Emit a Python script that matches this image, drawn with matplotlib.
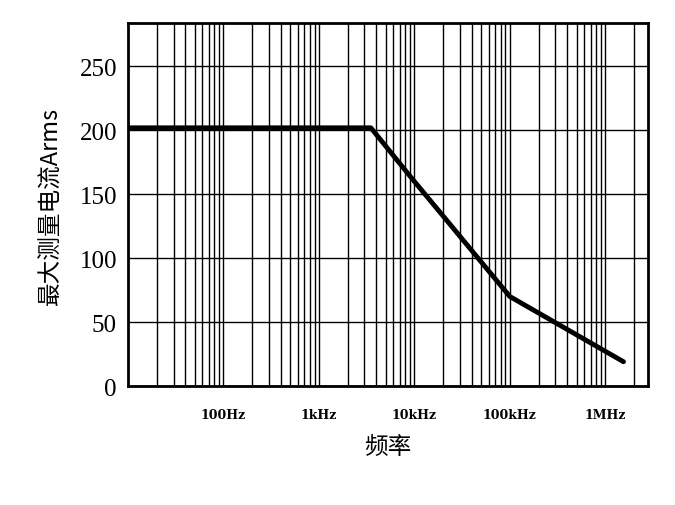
import matplotlib
matplotlib.use("Agg")
import matplotlib.pyplot as plt
from matplotlib.ticker import LogLocator, FixedLocator, NullFormatter

freq = [10, 3500, 10000, 19500, 100000, 1550000]
current = [202, 202, 160, 134, 70, 19]
xticks = [100, 1000, 10000, 100000, 1000000]
xticklabels = ["100Hz", "1kHz", "10kHz", "100kHz", "1MHz"]
yticks = [0, 50, 100, 150, 200, 250]

fig = plt.figure(figsize=(6.75, 5.06), dpi=100)
ax = fig.add_axes([128/675, 1-387/506, 520/675, 363/506])
ax.plot(freq, current, color="black", lw=3.5, solid_capstyle="round", zorder=3)
ax.set_xscale("log")
ax.set_xlim(10, 2.8e6)
ax.set_ylim(0, 284)
ax.xaxis.set_major_locator(FixedLocator(xticks))
ax.set_xticklabels(xticklabels, family="DejaVu Serif", fontweight="bold", fontsize=9)
ax.xaxis.set_minor_locator(LogLocator(base=10, subs=range(2, 10), numticks=20))
ax.xaxis.set_minor_formatter(NullFormatter())
ax.set_yticks(yticks)
ax.set_yticklabels([str(v) for v in yticks], family="Liberation Serif", fontsize=18)
ax.grid(True, which="both", axis="x", color="black", lw=1)
ax.grid(True, which="major", axis="y", color="black", lw=1)
ax.tick_params(axis="both", which="both", length=0, pad=8)
ax.tick_params(axis="x", pad=16)
for s in ax.spines.values():
    s.set_linewidth(2)
ax.set_ylabel("最大测量电流Arms", family=["Noto Sans CJK SC"], fontsize=17, labelpad=12)
ax.set_xlabel("频率", family=["Noto Sans CJK SC"], fontsize=17, labelpad=10)
fig.savefig("out.png", dpi=100)
